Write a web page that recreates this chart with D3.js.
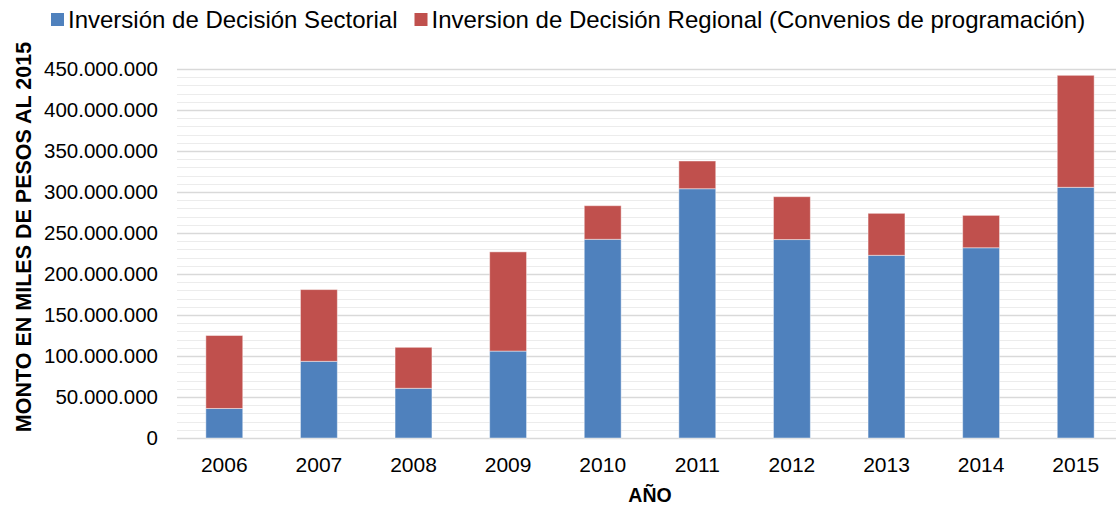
<!DOCTYPE html>
<html>
<head>
<meta charset="utf-8">
<script src="https://cdn.jsdelivr.net/npm/d3@7"></script>
<style>
  body { margin: 0; background: #fff; }
  text { font-family: "Liberation Sans", Arial, sans-serif; fill: #000; }
</style>
</head>
<body>
<div id="chart"></div>
<script>
// Step 1: Data
// =================================
var years      = ["2006", "2007", "2008", "2009", "2010", "2011", "2012", "2013", "2014", "2015"];
var sectorial  = [36000000, 93500000, 60600000, 106000000, 242300000, 304000000, 242000000, 222800000, 232000000, 305700000];
var regional   = [89000000, 87500000, 50000000, 121000000, 41000000, 33800000, 52300000, 51200000, 39500000, 136600000];
var yTicks     = [0, 50000000, 100000000, 150000000, 200000000, 250000000, 300000000, 350000000, 400000000, 450000000];
var seriesNames = ["Inversión de Decisión Sectorial",
                   "Inversion de Decisión Regional (Convenios de programación)"];
var colors = ["#4F81BD", "#C0504D"];

// Step 2: Set up our chart
// =================================
var svgWidth  = 1116;
var svgHeight = 505;

var margin = { top: 69, right: -7, bottom: 67, left: 177 };

var width  = svgWidth  - margin.left - margin.right;
var height = svgHeight - margin.top  - margin.bottom;

var svg = d3.select("#chart")
  .append("svg")
  .attr("width", svgWidth)
  .attr("height", svgHeight);

var svgGroup = svg.append("g")
  .attr("transform", `translate(${margin.left}, ${margin.top})`);

// Step 3: Scales
// =================================
var xBandScale = d3.scaleBand()
  .domain(years)
  .range([0, width])
  .paddingInner(0.61)
  .paddingOuter(0.305);

var yLinearScale = d3.scaleLinear()
  .domain([0, 450000000])
  .range([height, 0]);

// Step 4: Gridlines (minor every 10M, major every 50M)
// =================================
var minorTicks = d3.range(10000000, 450000001, 10000000)
  .filter(v => v % 50000000 !== 0);

svgGroup.append("g")
  .attr("class", "minorGrid")
  .selectAll("line")
  .data(minorTicks)
.enter().append("line")
  .attr("x1", 0)
  .attr("x2", width)
  .attr("y1", d => Math.round(yLinearScale(d)) + 0.5)
  .attr("y2", d => Math.round(yLinearScale(d)) + 0.5)
  .attr("stroke", "#ececec")
  .attr("stroke-width", 1);

var leftAxis = d3.axisLeft(yLinearScale)
  .tickValues(yTicks)
  .tickSize(-width)
  .tickPadding(19)
  .tickFormat(d => d3.format(",")(d).replace(/,/g, "."));

var yAxis = svgGroup.append("g")
  .attr("id", "yAxis")
  .call(leftAxis);

yAxis.select(".domain").remove();
yAxis.selectAll(".tick line")
  .attr("stroke", "#d9d9d9")
  .attr("stroke-width", 1.5);
yAxis.selectAll(".tick text")
  .attr("font-size", 20.5)
  .style("font-family", "'Liberation Sans', Arial, sans-serif")
  .attr("fill", "#000");

// Step 5: Stacked bars
// =================================
var stackData = years.map((y, i) => ({ year: y, s0: sectorial[i], s1: regional[i] }));
var stacked = d3.stack().keys(["s0", "s1"])(stackData);

svgGroup.append("g")
  .attr("id", "bars")
  .selectAll("g")
  .data(stacked)
.enter().append("g")
  .attr("fill", (d, i) => colors[i])
  .selectAll("rect")
  .data(d => d)
.enter().append("rect")
  .attr("x", d => xBandScale(d.data.year))
  .attr("width", xBandScale.bandwidth())
  .attr("y", d => yLinearScale(d[1]))
  .attr("height", d => yLinearScale(d[0]) - yLinearScale(d[1]))
  .attr("stroke", "rgba(255,255,255,0.45)")
  .attr("stroke-width", 1);

// Step 6: X axis labels
// =================================
var bottomAxis = d3.axisBottom(xBandScale)
  .tickSize(0)
  .tickPadding(19);

var xAxis = svgGroup.append("g")
  .attr("id", "xAxis")
  .attr("transform", `translate(0, ${height})`)
  .call(bottomAxis);

xAxis.select(".domain").remove();
xAxis.selectAll(".tick text")
  .attr("font-size", 21)
  .style("font-family", "'Liberation Sans', Arial, sans-serif")
  .attr("fill", "#000");

// Step 7: Axis titles
// =================================
svg.append("text")
  .attr("x", margin.left + (1123 - margin.left) / 2)
  .attr("y", 502)
  .attr("text-anchor", "middle")
  .attr("font-size", 19.5)
  .attr("font-weight", "bold")
  .text("AÑO");

svg.append("text")
  .attr("transform", "translate(31, 237) rotate(-90)")
  .attr("text-anchor", "middle")
  .attr("font-size", 21.5)
  .attr("font-weight", "bold")
  .text("MONTO EN MILES DE PESOS AL 2015");

// Step 8: Legend
// =================================
var legend = svg.append("g").attr("id", "legend");
var legendX = 51;
seriesNames.forEach(function(name, i) {
  var item = legend.append("g")
    .attr("transform", `translate(${legendX}, 0)`);
  item.append("rect")
    .attr("x", 0)
    .attr("y", 13)
    .attr("width", 13)
    .attr("height", 13)
    .attr("fill", colors[i]);
  var label = item.append("text")
    .attr("x", 17)
    .attr("y", 28)
    .attr("font-size", 24)
    .text(name);
  legendX += 17 + label.node().getComputedTextLength() + 17;
});
</script>
</body>
</html>
